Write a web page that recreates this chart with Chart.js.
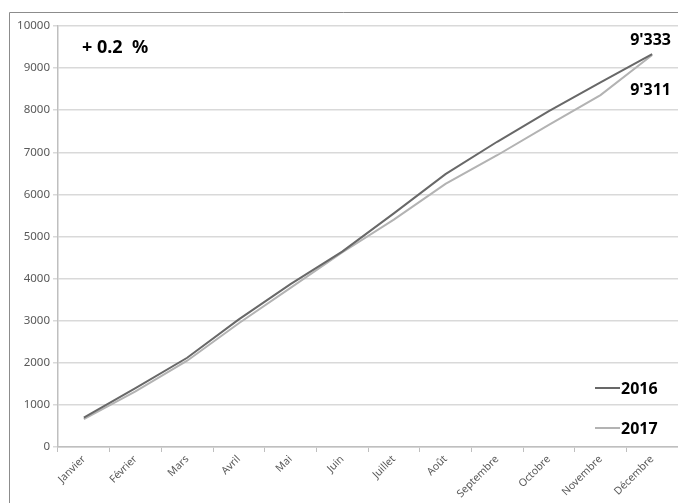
<!DOCTYPE html>
<html>
<head>
<meta charset="utf-8">
<script src="https://cdn.jsdelivr.net/npm/chart.js@4.4.1/dist/chart.umd.min.js"></script>
<style>
  html, body { margin: 0; padding: 0; background: #fff; }
  canvas { display: block; }
</style>
</head>
<body>
<canvas id="chart" width="678" height="503"></canvas>
<script>
'use strict';

// months on the x axis
const months = ['Janvier', 'Février', 'Mars', 'Avril', 'Mai', 'Juin',
  'Juillet', 'Août', 'Septembre', 'Octobre', 'Novembre', 'Décembre'];

// cumulated values
const values2016 = [700, 1400, 2120, 3030, 3870, 4640, 5550, 6480, 7250, 7980, 8660, 9333];
const values2017 = [660, 1320, 2050, 2940, 3780, 4620, 5400, 6250, 6930, 7650, 8360, 9311];

const seriesNames = ['2016', '2017'];
const seriesColors = ['#686868', '#b3b3b3'];

const yMin = 0;
const yMax = 10000;
const yStep = 1000;

// 9333 -> 9'333
function swissFormat(n) {
  return String(Math.round(n)).replace(/\B(?=(\d{3})+(?!\d))/g, "'");
}

const last16 = values2016[values2016.length - 1];
const last17 = values2017[values2017.length - 1];
const diffText = '+ ' + ((last16 - last17) / last17 * 100).toFixed(1) + '  %';

const boldFont = 'bold 16px "Noto Sans", sans-serif';

// frame + annotations + legend drawn on the canvas
const extras = {
  id: 'extras',
  beforeDraw(chart) {
    const c = chart.ctx;
    c.save();
    c.strokeStyle = '#8c8c8c';
    c.lineWidth = 1;
    c.beginPath();
    c.moveTo(9.5, 503);
    c.lineTo(9.5, 12.5);
    c.lineTo(678, 12.5);
    c.stroke();
    c.restore();
  },
  afterDraw(chart) {
    const c = chart.ctx;
    c.save();
    c.fillStyle = '#000';
    c.textBaseline = 'middle';

    c.textAlign = 'left';
    c.font = 'bold 18px "Noto Sans", sans-serif';
    c.fillText(diffText, 82, 48);

    c.font = boldFont;
    c.textAlign = 'right';
    c.fillText(swissFormat(last16), 671, 40);
    c.fillText(swissFormat(last17), 671, 90);

    // legend bottom right
    const legendY = [388, 428];
    chart.data.datasets.forEach((ds, i) => {
      c.strokeStyle = ds.borderColor;
      c.lineWidth = 2;
      c.beginPath();
      c.moveTo(595, legendY[i]);
      c.lineTo(620, legendY[i]);
      c.stroke();
      c.fillStyle = '#000';
      c.textAlign = 'left';
      c.fillText(ds.label, 621, legendY[i] + 1);
    });
    c.restore();
  }
};

const ctx = document.getElementById('chart');

new Chart(ctx, {
  type: 'line',
  data: {
    labels: months,
    datasets: [{
      label: seriesNames[0],
      data: values2016,
      borderColor: seriesColors[0],
      borderWidth: 2,
      pointRadius: 0,
      tension: 0
    },
    {
      label: seriesNames[1],
      data: values2017,
      borderColor: seriesColors[1],
      borderWidth: 2,
      pointRadius: 0,
      tension: 0
    }]
  },
  options: {
    responsive: false,
    animation: false,
    devicePixelRatio: 1,
    layout: { padding: { left: 10, top: 26, right: 0, bottom: 0 } },
    plugins: {
      legend: { display: false },
      tooltip: { enabled: false }
    },
    scales: {
      x: {
        offset: true,
        grid: {
          offset: true,
          drawOnChartArea: false,
          drawTicks: true,
          tickLength: 5,
          color: '#bfbfbf',
          lineWidth: 1
        },
        border: { color: '#bfbfbf', width: 1.5 },
        ticks: {
          minRotation: 45,
          maxRotation: 45,
          autoSkip: false,
          padding: 1,
          color: '#595959',
          font: { family: '"Noto Sans", sans-serif', size: 10.5 }
        },
        afterFit(scale) { scale.height = 56; }
      },
      y: {
        min: yMin,
        max: yMax,
        grid: {
          color: '#d9d9d9',
          lineWidth: 1.5,
          tickLength: 5
        },
        border: { color: '#bfbfbf', width: 1.5 },
        ticks: {
          stepSize: yStep,
          padding: 3,
          color: '#595959',
          font: { family: '"Noto Sans", sans-serif', size: 11.5 },
          callback: (v) => String(v)
        },
        afterFit(scale) { scale.width = 48; }
      }
    }
  },
  plugins: [extras]
});
</script>
</body>
</html>
